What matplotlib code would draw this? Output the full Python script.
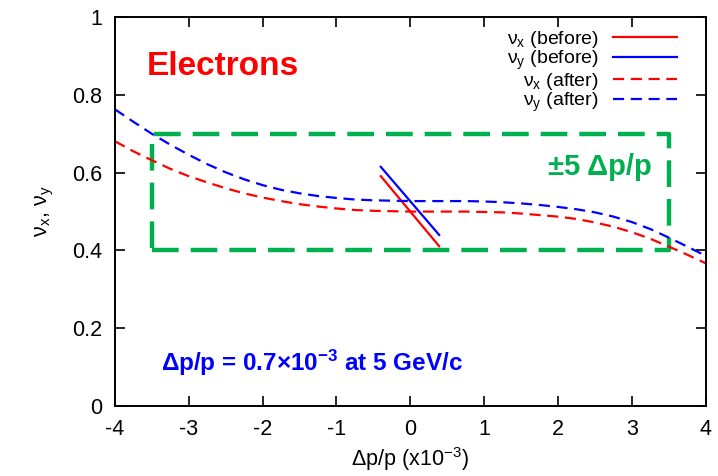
import matplotlib
matplotlib.use("Agg")
from matplotlib import pyplot as plt

plt.rcParams['font.family'] = ['Liberation Sans', 'DejaVu Sans']
plt.rcParams['mathtext.fontset'] = 'custom'
plt.rcParams['mathtext.rm'] = 'Liberation Sans'
plt.rcParams['mathtext.it'] = 'Liberation Sans:italic'
plt.rcParams['mathtext.bf'] = 'Liberation Sans:bold'
plt.rcParams['axes.unicode_minus'] = False

# tunes after correction
dpp = [-4, -3.75, -3.5, -3.25, -3, -2.75, -2.5, -2.25, -2, -1.75, -1.5, -1.25,
       -1, -0.75, -0.5, -0.25, 0, 0.25, 0.5, 0.75, 1, 1.25, 1.5, 1.75, 2,
       2.25, 2.5, 2.75, 3, 3.25, 3.5, 3.75, 4]
nux_after = [0.681, 0.655, 0.632, 0.610, 0.591, 0.575, 0.560, 0.547, 0.536,
             0.527, 0.519, 0.513, 0.508, 0.504, 0.502, 0.501, 0.500, 0.500,
             0.500, 0.500, 0.499, 0.498, 0.495, 0.491, 0.487, 0.481, 0.472,
             0.461, 0.447, 0.430, 0.410, 0.389, 0.367]
nuy_after = [0.763, 0.731, 0.700, 0.672, 0.646, 0.622, 0.601, 0.583, 0.568,
             0.556, 0.547, 0.540, 0.535, 0.531, 0.529, 0.528, 0.527, 0.527,
             0.527, 0.527, 0.526, 0.524, 0.521, 0.517, 0.512, 0.506, 0.498,
             0.487, 0.473, 0.455, 0.433, 0.410, 0.386]

# tunes before correction
dpp_before = [-0.40, 0.39]
nux_before = [0.591, 0.411]
nuy_before = [0.615, 0.440]

# +-5 dp/p acceptance box
box_x = [-3.5, 3.5, 3.5, -3.5, -3.5]
box_y = [0.4, 0.4, 0.7, 0.7, 0.4]

red = '#ff0000'
blue = '#0000ff'
green = '#00b050'

fig = plt.figure(figsize=(7.18, 4.76), dpi=100)
ax = fig.add_axes([0.160, 0.147, 0.823, 0.817])

ax.plot(box_x, box_y, color=green, lw=3.2, linestyle=(0, (6, 2.7)), zorder=1)

ax.plot(dpp_before, nux_before, color=red, lw=1.6, label=r'ν$_\mathregular{x}$ (before)')
ax.plot(dpp_before, nuy_before, color=blue, lw=1.6, label=r'ν$_\mathregular{y}$ (before)')
ax.plot(dpp, nux_after, color=red, lw=1.6, linestyle=(0, (5, 3)), label=r'ν$_\mathregular{x}$ (after)')
ax.plot(dpp, nuy_after, color=blue, lw=1.6, linestyle=(0, (5, 3)), label=r'ν$_\mathregular{y}$ (after)')

ax.set_xlim(-4, 4)
ax.set_ylim(0, 1)
ax.set_xticks(range(-4, 5))
ax.set_yticks([0, 0.2, 0.4, 0.6, 0.8, 1])
ax.set_yticklabels(['0', '0.2', '0.4', '0.6', '0.8', '1'])
ax.tick_params(direction='in', length=7, width=1.2, top=True, right=True,
               labelsize=15.5, pad=9)
for s in ax.spines.values():
    s.set_linewidth(1.4)

ax.set_xlabel(r'Δp/p (x10$^\mathregular{-3}$)', fontsize=15.5, labelpad=4)
ax.set_ylabel(r'ν$_\mathregular{x}$, ν$_\mathregular{y}$', fontsize=15.5, labelpad=12)

ax.text(-3.57, 0.872, 'Electrons', color=red, fontsize=24, fontweight='bold',
        ha='left', va='center')
ax.text(1.87, 0.614, '±5 Δp/p', color=green, fontsize=21, fontweight='bold',
        ha='left', va='center')
ax.text(-3.38, 0.112, r'Δp/p = 0.7×10$^\mathregular{-3}$ at 5 GeV/c', color=blue,
        fontsize=17.5, fontweight='bold', ha='left', va='center')

ax.legend(loc='upper right', bbox_to_anchor=(0.975, 1.005), frameon=False,
          markerfirst=False, fontsize=14, handlelength=3.3, handletextpad=0.75,
          labelspacing=-0.05, borderpad=0.2)

fig.savefig('out.png', dpi=100)
